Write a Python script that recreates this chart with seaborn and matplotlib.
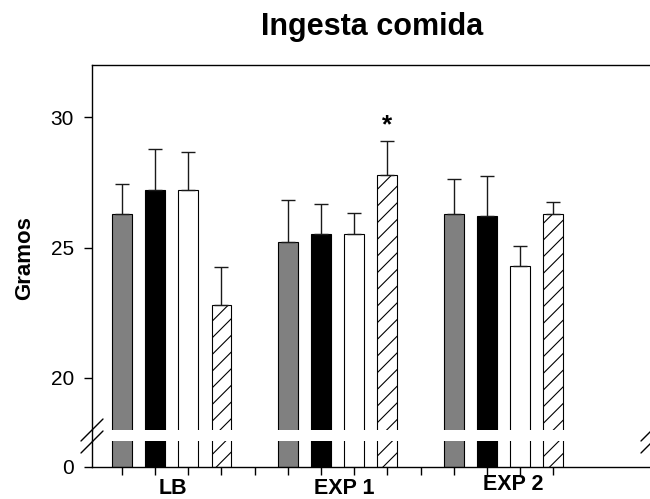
import numpy as np
import pandas as pd
import matplotlib
matplotlib.use("Agg")
import matplotlib.pyplot as plt
from matplotlib.lines import Line2D
import seaborn as sns

# ---------------- data ----------------
groups = ["LB", "EXP 1", "EXP 2"]
conditions = ["A", "B", "C", "D"]
lb_means = [26.3, 27.2, 27.2, 22.8]
exp1_means = [25.2, 25.5, 25.5, 27.8]
exp2_means = [26.3, 26.2, 24.3, 26.3]
lb_sem = [1.12, 1.58, 1.47, 1.47]
exp1_sem = [1.63, 1.15, 0.82, 1.27]
exp2_sem = [1.32, 1.55, 0.77, 0.43]
significant = [("EXP 1", "D")]
y_ticks_top = [20, 25, 30]
y_ticks_bottom = [0]

# ---------------- styles ----------------
fills = {"A": "#808080", "B": "#000000", "C": "#ffffff", "D": "#ffffff"}
hatches = {"A": "", "B": "", "C": "", "D": "//"}

sns.set_style("white")
plt.rcParams["font.family"] = ["Liberation Sans", "DejaVu Sans"]
plt.rcParams["hatch.linewidth"] = 0.8
plt.rcParams["hatch.color"] = "black"
plt.rcParams["text.color"] = "black"
plt.rcParams["xtick.color"] = "black"
plt.rcParams["ytick.color"] = "black"
plt.rcParams["axes.labelcolor"] = "black"

# table
rows = []
means_all = [lb_means, exp1_means, exp2_means]
sems_all = [lb_sem, exp1_sem, exp2_sem]
for gi, g in enumerate(groups):
    for ci, c in enumerate(conditions):
        rows.append({"group": g, "cond": c, "pos": gi * 5 + ci,
                     "mean": means_all[gi][ci], "sem": sems_all[gi][ci]})
df = pd.DataFrame(rows)

W, H = 650, 499
fig = plt.figure(figsize=(W / 100, H / 100), dpi=100)

def fx(px):
    return px / W

def fy(py):
    return 1 - py / H

left, right = 92, 652
ax_top = fig.add_axes([fx(left), fy(430), fx(right - left), (430 - 65) / H])
ax_bot = fig.add_axes([fx(left), fy(467), fx(right - left), (467 - 441) / H])

for ax in (ax_top, ax_bot):
    sns.barplot(data=df, x="pos", y="mean", hue="cond", palette=fills,
                native_scale=True, dodge=False, width=0.6, errorbar=None,
                edgecolor="black", linewidth=0.8, legend=False, ax=ax)
    for bar in ax.patches:
        p = int(round(bar.get_x() + bar.get_width() / 2))
        cond = df.loc[df["pos"] == p, "cond"]
        if len(cond):
            bar.set_hatch(hatches[cond.iloc[0]])
    ax.set_xlim(-0.9, 15.97)
    ax.set_xlabel("")
    ax.set_ylabel("")

# error bars (upper only)
ax_top.errorbar(df["pos"], df["mean"], yerr=[np.zeros(len(df)), df["sem"]],
                fmt="none", ecolor="#1a1a1a", elinewidth=1.0, capsize=5,
                capthick=1.0, zorder=1)

# significance marker
for g, c in significant:
    r = df[(df["group"] == g) & (df["cond"] == c)].iloc[0]
    ax_top.text(r["pos"], r["mean"] + r["sem"] + 0.6, "*", ha="center",
                va="center", fontsize=19, fontweight="bold")

# top axis
ax_top.set_ylim(18, 32)
ax_top.set_yticks(y_ticks_top)
ax_top.set_xticks([])
for s in ["left", "top", "right"]:
    ax_top.spines[s].set_visible(True)
    ax_top.spines[s].set_color("black")
    ax_top.spines[s].set_linewidth(1.0)
ax_top.spines["bottom"].set_visible(False)
ax_top.tick_params(axis="y", direction="out", length=6, width=1,
                   labelsize=15, pad=7, left=True, color="black",
                   labelcolor="black")

# bottom axis
ax_bot.set_ylim(0, 1)
ax_bot.set_yticks(y_ticks_bottom)
ax_bot.set_xticks(np.arange(0, 14))
ax_bot.set_xticklabels([])
for s in ["top", "right"]:
    ax_bot.spines[s].set_visible(False)
for s in ["left", "bottom"]:
    ax_bot.spines[s].set_visible(True)
    ax_bot.spines[s].set_color("black")
    ax_bot.spines[s].set_linewidth(1.0)
ax_bot.tick_params(axis="both", direction="out", length=6, width=1,
                   labelsize=15, pad=7, left=True, bottom=True, color="black",
                   labelcolor="black")

# continuous left spine through the gap
fig.add_artist(Line2D([fx(left), fx(left)], [fy(441), fy(430)],
                      color="black", lw=1.0))
# break marks
for dx in (0, right - left):
    for y0 in (441, 453):
        fig.add_artist(Line2D([fx(81 + dx), fx(103 + dx)],
                              [fy(y0), fy(y0 - 22)], color="black", lw=1.0))

# group labels
label_px = [(172.5, 488), (344, 488), (513, 484)]
for g, (px, py) in zip(groups, label_px):
    fig.text(fx(px), fy(py), g, ha="center", va="center",
             fontsize=15.5, fontweight="bold")

fig.text(fx(25), fy(258), "Gramos", rotation=90, ha="center", va="center",
         fontsize=16, fontweight="bold")
fig.text(fx(372.5), fy(27), "Ingesta comida", ha="center", va="center",
         fontsize=22, fontweight="bold")

fig.savefig("out.png", dpi=100)
